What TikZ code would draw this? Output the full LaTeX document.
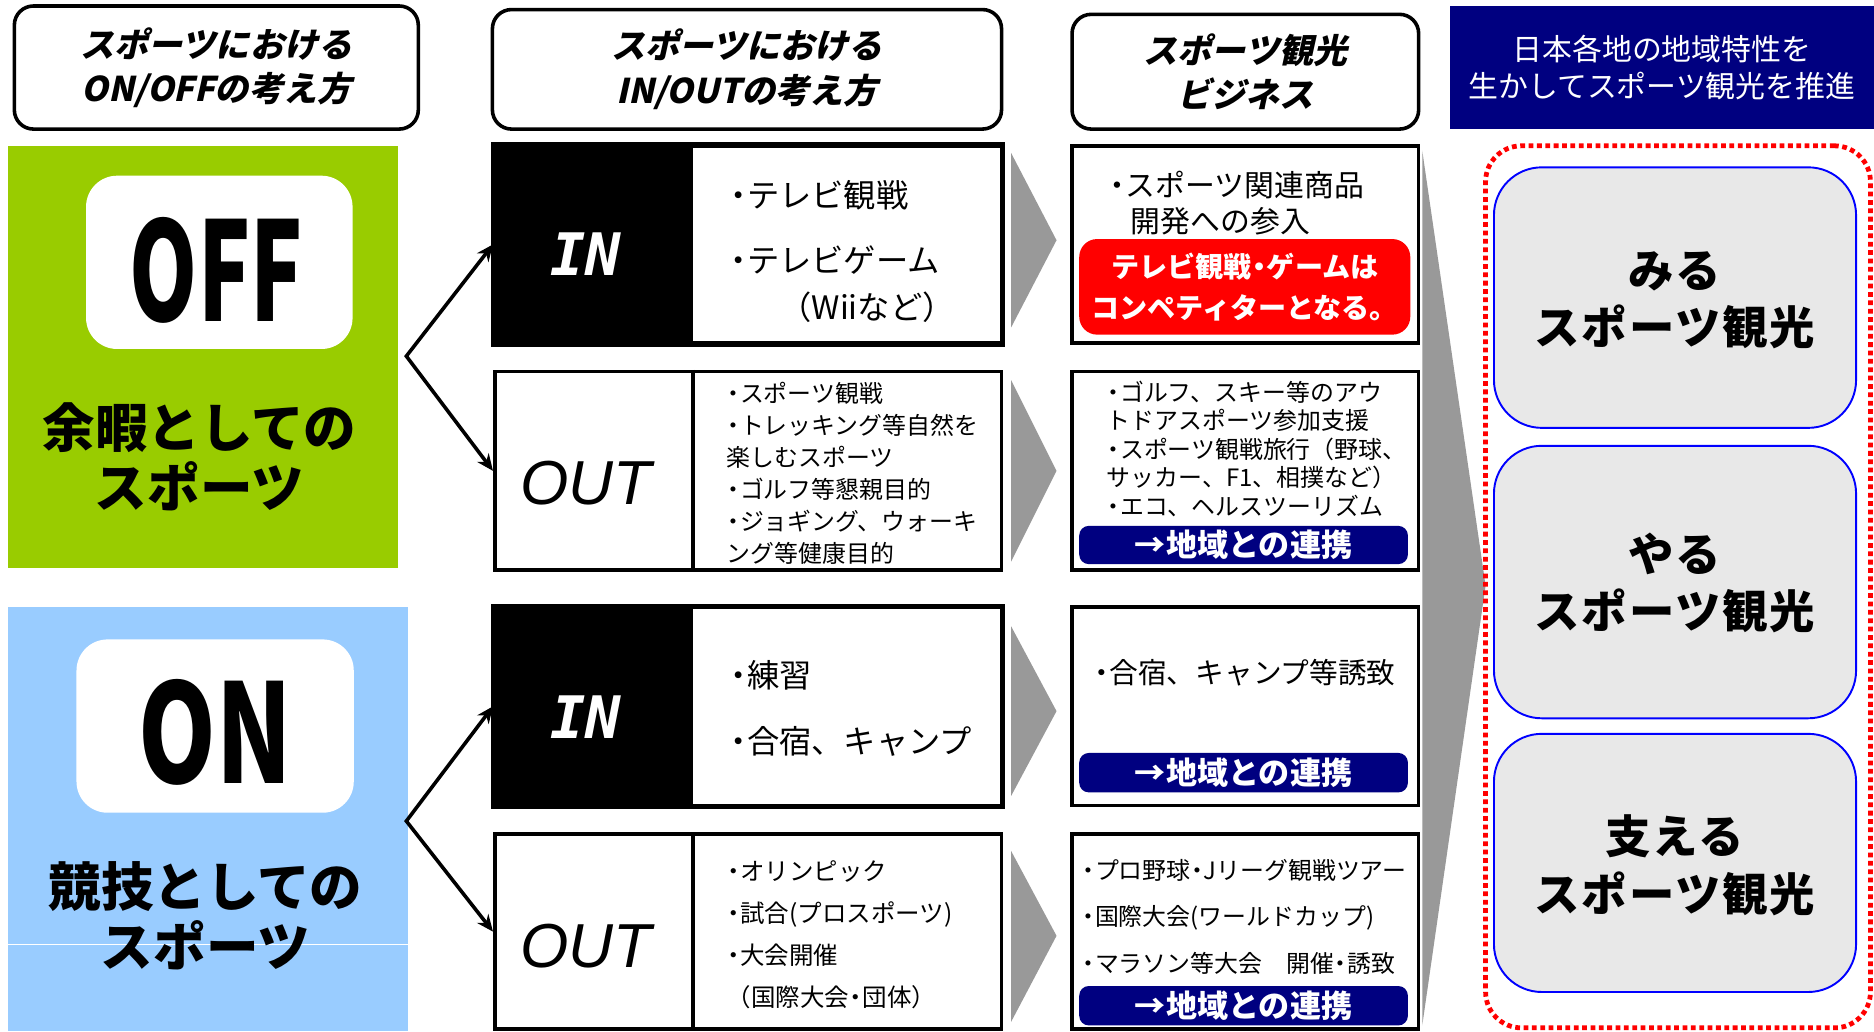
\documentclass[tikz,border=0pt]{standalone}
\usepackage{graphicx}
\usepackage{fontspec}
\setmainfont{Noto Sans CJK JP}
\newfontfamily\jpsl[FakeSlant=0.22]{Noto Sans CJK JP}
\newfontfamily\jpwide[LetterSpace=4]{Noto Sans CJK JP}
\newfontfamily\monofnt{DejaVu Sans Mono}
\newfontfamily\arialfnt{Liberation Sans}
\usetikzlibrary{arrows.meta}
\definecolor{offgreen}{HTML}{99CC00}
\definecolor{onblue}{HTML}{99CCFF}
\definecolor{navyc}{HTML}{000080}
\definecolor{wedgegray}{HTML}{999999}
\definecolor{lightfill}{HTML}{E8E8E8}
\definecolor{bluedge}{HTML}{0000FF}
\newcommand{\fsz}[2]{\fontsize{#1}{#2}\selectfont}
\newcommand{\dt}{\makebox[0.55em][c]{・}}
\begin{document}
\begin{tikzpicture}[x=1pt,y=-1pt,
  box/.style={draw=black,line width=3pt,fill=white,inner sep=0pt},
  hdr/.style={box,rounded corners=16pt},
  txt/.style={inner sep=0pt,align=center},
  ltxt/.style={inner sep=0pt,align=left,anchor=west},
  blackpart/.style={fill=black,inner sep=0pt,minimum width=166pt},
  navybar/.style={fill=navyc,rounded corners=8pt,inner sep=0pt,minimum width=275pt,minimum height=32pt},
  navytxt/.style={txt,text=white,font={\bfseries\fsz{26}{30}}},
  inlbl/.style={txt,text=white,font={\monofnt\bfseries\itshape\fsz{49}{50}}},
  outlbl/.style={txt,font={\arialfnt\itshape\fsz{52}{54}}},
  fork/.style={line width=3pt,{Stealth[length=14pt,width=12pt]}-{Stealth[length=14pt,width=12pt]}},
  seebox/.style={draw=bluedge,line width=1.6pt,fill=lightfill,rounded corners=40pt,inner sep=0pt,minimum width=303pt},
  seetxt/.style={txt,font={\jpwide\bfseries\fsz{38}{48}}},
  hdrtxt/.style={txt,font={\jpsl\bfseries\fsz{28.5}{37}}},
  wedge/.style={fill=wedgegray,draw=none}
]
\useasboundingbox (0,0) rectangle (1568,863);
\fill[white] (0,0) rectangle (1568,863);

% headers
\node[hdr,minimum width=338pt,minimum height=103pt] (h1) at (181,56.5) {};
\node[hdrtxt] (h1t) at (h1.center) {スポーツにおける\\ON/OFFの考え方};
\node[hdr,minimum width=426pt,minimum height=100pt] (h2) at (625,58) {};
\node[hdrtxt] (h2t) at (h2.center) {スポーツにおける\\IN/OUTの考え方};
\node[hdr,minimum width=290pt,minimum height=96pt] (h3) at (1042,60) {};
\node[hdrtxt] (h3t) at (h3.center) {スポーツ観光\\ビジネス};
\node[fill=navyc,inner sep=0pt,minimum width=355pt,minimum height=103pt] (h4) at (1390.5,56.5) {};
\node[txt,text=white,font={\fsz{25}{31}}] (h4t) at (h4.center) {日本各地の地域特性を\\生かしてスポーツ観光を推進};

% OFF panel
\node[fill=offgreen,inner sep=0pt,minimum width=326pt,minimum height=353pt] (offbg) at (170,298.5) {};
\node[fill=white,rounded corners=26pt,inner sep=0pt,minimum width=223pt,minimum height=145pt] (offlab) at (183.5,219.5) {};
\node[txt,font={\bfseries\fsz{115}{120}}] (offt) at (181,226) {\scalebox{0.63}[1]{OFF}};
\node[txt,font={\bfseries\fsz{44}{50}}] (offsub) at (167,382) {余暇としての\\スポーツ};

% ON panel
\node[fill=onblue,inner sep=0pt,minimum width=334pt,minimum height=355pt] (onbg) at (174,685.5) {};
\draw[white,line width=0.8pt] (onbg.west |- 0,790) -- (onbg.east |- 0,790);
\node[fill=white,rounded corners=26pt,inner sep=0pt,minimum width=232pt,minimum height=145pt] (onlab) at (180,607.5) {};
\node[txt,font={\bfseries\fsz{115}{120}}] (ont) at (180,613) {\scalebox{0.72}[1]{ON}};
\node[txt,font={\bfseries\fsz{44}{50}}] (onsub) at (172,766) {競技としての\\スポーツ};

% IN/OUT boxes
\node[box,minimum width=424pt,minimum height=165pt] (in1) at (626,204.5) {};
\node[blackpart,minimum height=165pt] (in1k) at (497,204.5) {};
\draw[line width=3pt] (in1.north west) rectangle (in1.south east);
\node[inlbl] (in1l) at (490,213) {IN};
\node[ltxt,font=\fsz{27}{30}] (in1a) at (610,163) {\dt テレビ観戦};
\node[ltxt,font=\fsz{27}{30}] (in1b) at (610,218) {\dt テレビゲーム};
\node[ltxt,font=\fsz{27}{30}] (in1c) at (652,257) {（Wiiなど）};

\node[box,minimum width=424pt,minimum height=166pt] (out1) at (626,394) {};
\draw[line width=3pt] (out1.north -| 580,0) -- (out1.south -| 580,0);
\node[outlbl] (out1l) at (490,404) {OUT};
\node[ltxt,font=\fsz{20}{26.8}] (out1t) at (608,396) {\dt スポーツ観戦\\\dt トレッキング等自然を\\楽しむスポーツ\\\dt ゴルフ等懇親目的\\\dt ジョギング、ウォーキ\\ング等健康目的};

\node[box,minimum width=424pt,minimum height=166pt] (in2) at (626,591) {};
\node[blackpart,minimum height=166pt] (in2k) at (497,591) {};
\draw[line width=3pt] (in2.north west) rectangle (in2.south east);
\node[inlbl] (in2l) at (490,600) {IN};
\node[ltxt,font=\fsz{27}{30}] (in2a) at (610,565) {\dt 練習};
\node[ltxt,font=\fsz{27}{30}] (in2b) at (610,620) {\dt 合宿、キャンプ};

\node[box,minimum width=424pt,minimum height=163pt] (out2) at (626,779.5) {};
\draw[line width=3pt] (out2.north -| 580,0) -- (out2.south -| 580,0);
\node[outlbl] (out2l) at (490,792) {OUT};
\node[ltxt,font=\fsz{20.5}{35.3}] (out2t) at (608,782) {\dt オリンピック\\\dt 試合(プロスポーツ)\\\dt 大会開催\\（国際大会\dt 団体）};

% forks
\coordinate (f1) at (340,298);
\coordinate (f2) at (340,687);
\draw[fork] (in1.west) -- (f1) -- (out1.west);
\draw[fork] (in2.west) -- (f2) -- (out2.west);

% chevrons
\fill[wedge] (846,128) -- (884,201) -- (846,274) -- cycle;
\fill[wedge] (846,318) -- (884,394) -- (846,470) -- cycle;
\fill[wedge] (846,524) -- (884,595) -- (846,666) -- cycle;
\fill[wedge] (846,712) -- (884,783) -- (846,855) -- cycle;

% business boxes
\node[box,minimum width=290pt,minimum height=165pt] (bA) at (1042,204.5) {};
\node[ltxt,font=\fsz{25}{30}] (bA1) at (928,155) {\dt スポーツ関連商品};
\node[ltxt,font=\fsz{25}{30}] (bA2) at (946,185) {開発への参入};
\node[fill=red,rounded corners=15pt,inner sep=0pt,minimum width=277pt,minimum height=80pt] (redA) at (1041.5,240) {};
\node[txt,text=white,font={\bfseries\fsz{23.5}{34}}] (redAt) at (redA.center) {テレビ観戦\dt ゲームは\\コンペティターとなる。};

\node[box,minimum width=290pt,minimum height=166pt] (bB) at (1042,394) {};
\node[ltxt,font=\fsz{20}{23.8}] (bBt) at (926,375.5) {\dt ゴルフ、スキー等のアウ\\トドアスポーツ参加支援\\\dt スポーツ観戦旅行（野球、\\サッカー、F1、相撲など）\\\dt エコ、ヘルスツーリズム};
\node[navybar] (bBn) at (1040.5,456) {};
\node[navytxt] (bBnt) at (bBn.center) {→地域との連携};

\node[box,minimum width=290pt,minimum height=166pt] (bC) at (1042,591) {};
\node[ltxt,font=\fsz{24}{30}] (bCt) at (915,563) {\dt 合宿、キャンプ等誘致};
\node[navybar,minimum height=33pt] (bCn) at (1040.5,646.5) {};
\node[navytxt] (bCnt) at (bCn.center) {→地域との連携};

\node[box,minimum width=290pt,minimum height=163pt] (bD) at (1042,779.5) {};
\node[ltxt,font=\fsz{20}{39}] (bDt) at (905,767) {\dt プロ野球\dt Jリーグ観戦ツアー\\\dt 国際大会(ワールドカップ)\\\dt マラソン等大会　開催\dt 誘致};
\node[navybar,minimum height=33pt] (bDn) at (1040.5,841.5) {};
\node[navytxt] (bDnt) at (bDn.center) {→地域との連携};

% big wedge
\fill[wedge] (1190,126) -- (1243,490) -- (1190,858) -- cycle;

% right frame
\node[draw=red,line width=4pt,dash pattern=on 4pt off 3pt,rounded corners=30pt,inner sep=0pt,minimum width=322pt,minimum height=738pt] (frame) at (1404,491) {};
\node[seebox,minimum height=218pt] (see1) at (1401.5,249) {};
\node[seetxt] (see1t) at (1401.5,251) {みる\\スポーツ観光};
\node[seebox,minimum height=228pt] (see2) at (1401.5,487) {};
\node[seetxt] (see2t) at (1401.5,488) {やる\\スポーツ観光};
\node[seebox,minimum height=216pt] (see3) at (1401.5,722) {};
\node[seetxt] (see3t) at (1401.5,724) {支える\\スポーツ観光};
\end{tikzpicture}
\end{document}
